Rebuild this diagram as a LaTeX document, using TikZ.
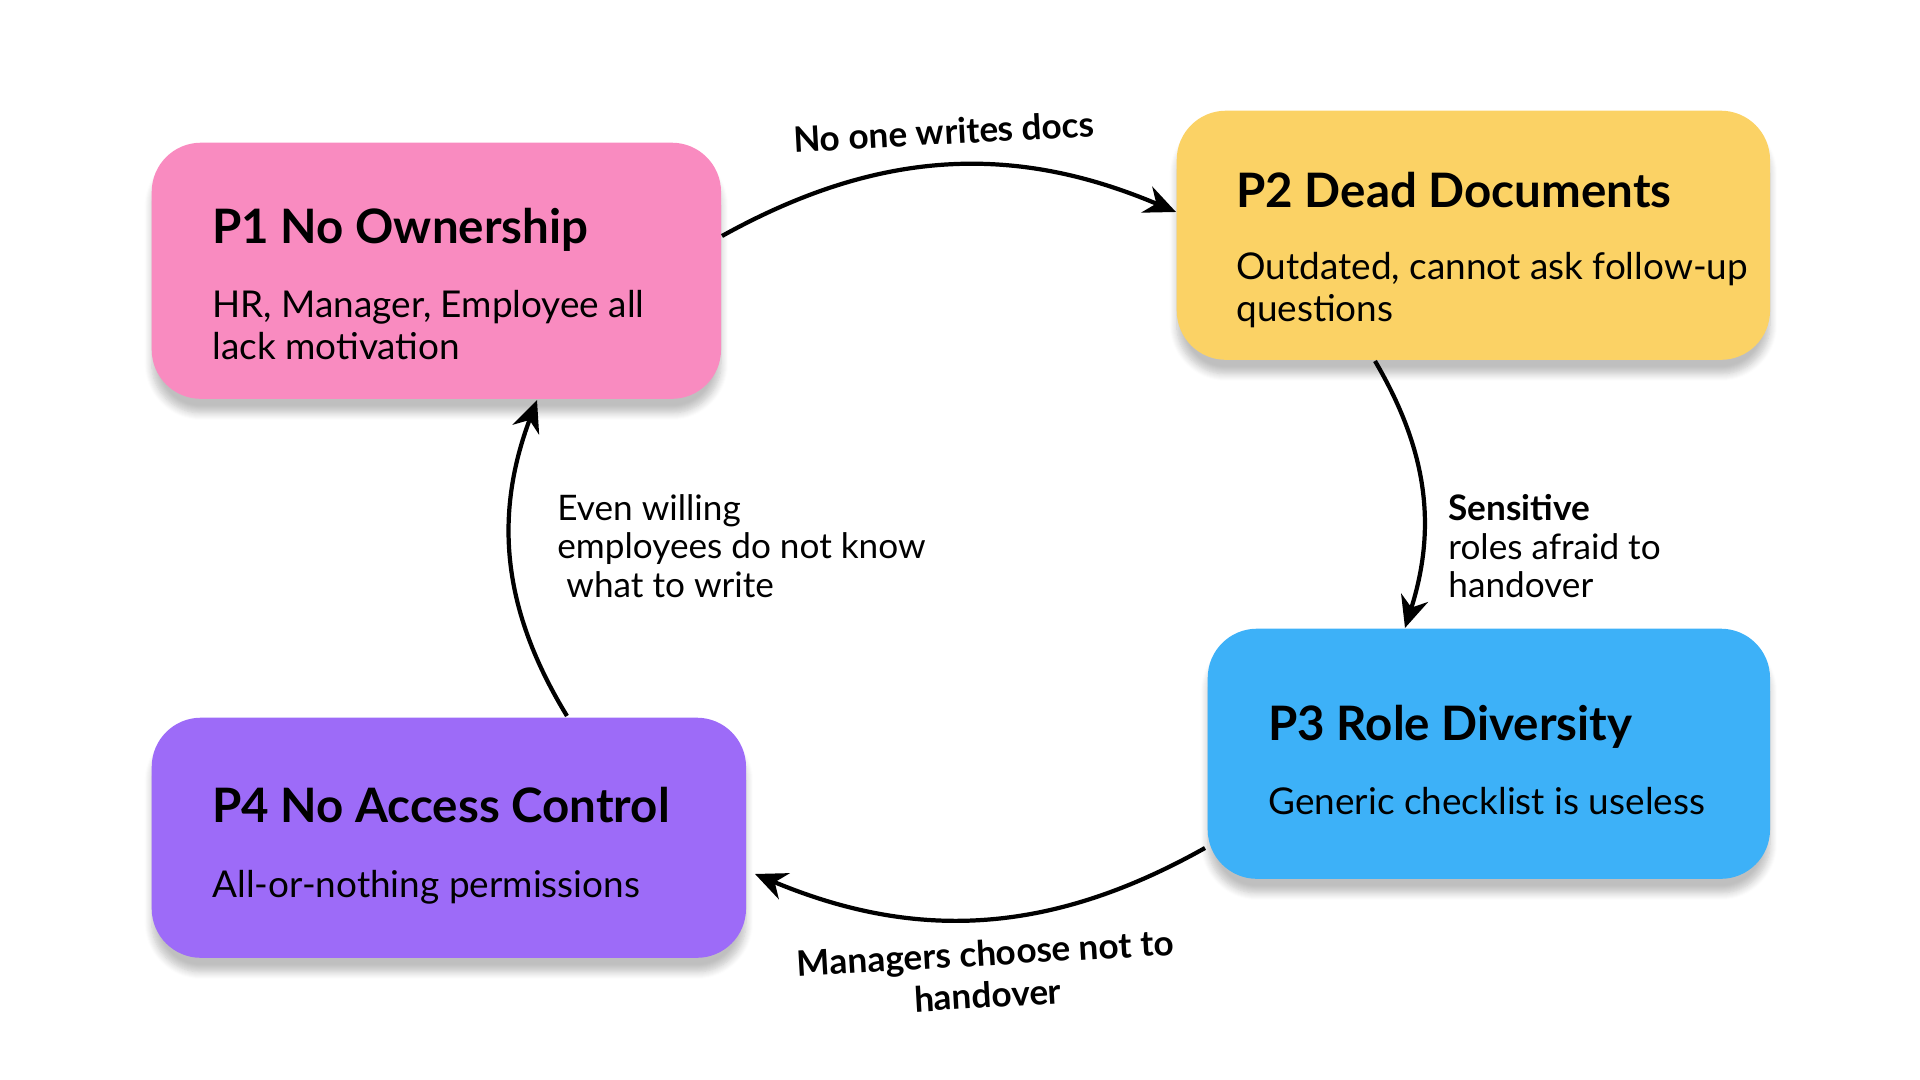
\documentclass[tikz,border=0pt]{standalone}
\usepackage{fontspec}
\setmainfont{Lato}
\usetikzlibrary{shadows.blur,arrows.meta}
\definecolor{pinkP}{HTML}{F98BC0}
\definecolor{yellowP}{HTML}{FBD265}
\definecolor{blueP}{HTML}{3DB1F8}
\definecolor{purpleP}{HTML}{9D6BF8}
\tikzset{
  card/.style={rounded corners=14pt, anchor=north west, inner sep=0pt,
    blur shadow={shadow blur steps=8, shadow xshift=0pt, shadow yshift=-4pt, shadow opacity=25}},
  ttl/.style={anchor=north west, font=\bfseries\fontsize{13.5}{16}\selectfont},
  body/.style={anchor=north west, align=left, font=\fontsize{10.5}{12}\selectfont},
  lbl/.style={font=\fontsize{10}{11}\selectfont, align=left},
  flow/.style={-{Stealth[length=9pt,width=8pt]}, line width=1.2pt}
}
\begin{document}
\begin{tikzpicture}[x=0.01cm, y=-0.01cm]
  \useasboundingbox (0,0) rectangle (1920,1080);
  % cards
  \node [card, fill=pinkP, minimum width=5.69cm, minimum height=2.56cm] (p1) at (151,142) {};
  \node [card, fill=yellowP, minimum width=5.93cm, minimum height=2.49cm] (p2) at (1176,110) {};
  \node [card, fill=blueP, minimum width=5.62cm, minimum height=2.50cm] (p3) at (1207,628) {};
  \node [card, fill=purpleP, minimum width=5.94cm, minimum height=2.40cm] (p4) at (151,717) {};
  % texts
  \node [ttl] (t1) at (200,196) {P1 No Ownership};
  \node [body] (b1) at (200,278) {HR, Manager, Employee all\\lack motivation};
  \node [ttl] (t2) at (1224,160) {P2 Dead Documents};
  \node [body] (b2) at (1224,240) {Outdated, cannot ask follow-up\\questions};
  \node [ttl] (t3) at (1256,693) {P3 Role Diversity};
  \node [body] (b3) at (1256,775) {Generic checklist is useless};
  \node [ttl] (t4) at (200,775) {P4 No Access Control};
  \node [body] (b4) at (200,858) {All-or-nothing permissions};
  % connectors
  \coordinate (a1) at (722,236);
  \coordinate (a2) at (1176,212);
  \draw [flow] (a1) to [bend left=26] node [lbl, above=2pt, sloped, font=\bfseries\fontsize{10}{11}\selectfont] {No one writes docs} (a2);
  \coordinate (b1s) at (1375,361);
  \coordinate (b2e) at (1405,628);
  \draw [flow] (b1s) to [bend left=24] (b2e);
  \node [lbl, anchor=north west] (l2) at (1436,482) {\textbf{Sensitive}\\roles afraid to\\handover};
  \coordinate (c1) at (1205,848);
  \coordinate (c2) at (755,874);
  \draw [flow] (c1) to [bend left=26] node [lbl, below=2pt, sloped, align=center, font=\bfseries\fontsize{10}{12}\selectfont] {Managers choose not to\\handover} (c2);
  \coordinate (d1) at (567,716);
  \coordinate (d2) at (537,400);
  \draw [flow] (d1) to [bend left=26] (d2);
  \node [lbl, anchor=north west] (l4) at (545,482) {Even willing\\employees do not know\\\ what to write};
\end{tikzpicture}
\end{document}
